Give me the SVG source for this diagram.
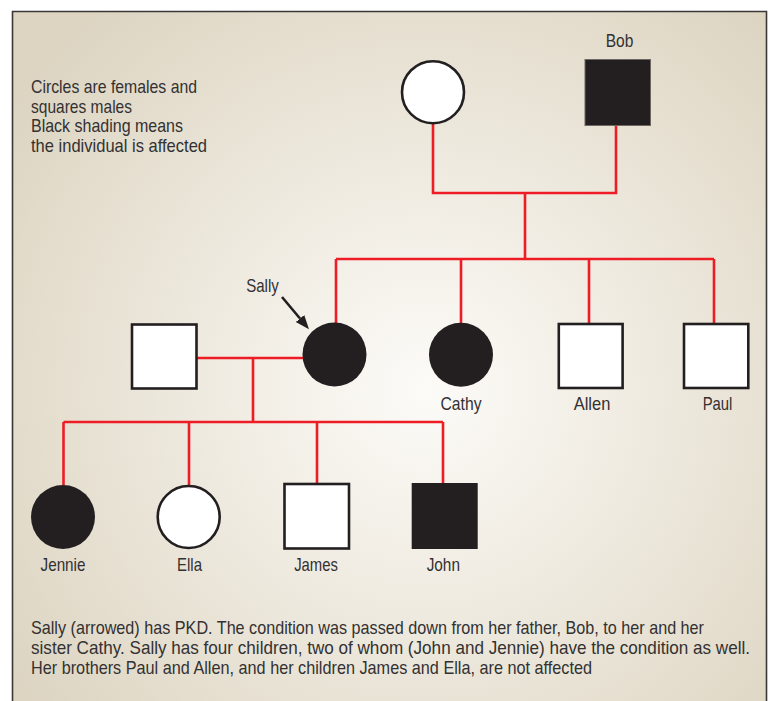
<svg xmlns="http://www.w3.org/2000/svg" width="774" height="701" viewBox="0 0 774 701">
  <defs>
    <radialGradient id="bg" gradientUnits="userSpaceOnUse" cx="425" cy="390" r="500">
      <stop offset="0" stop-color="#fcfbf8"/>
      <stop offset="0.35" stop-color="#f2eee5"/>
      <stop offset="1" stop-color="#ddd5c2"/>
    </radialGradient>
    <marker id="arrow" markerUnits="userSpaceOnUse" markerWidth="15" markerHeight="12" refX="0" refY="5.5" orient="auto" viewBox="0 0 15 12">
      <path d="M0,0 L14,5.5 L0,11 z" fill="#231f20"/>
    </marker>
    <style>
      .txt { font-family: "Liberation Sans", Arial, sans-serif; font-size: 19px; fill: #333132; }
      .lbl { text-anchor: middle; }
      .link { fill: none; stroke: #ee1c25; stroke-width: 2.6; }
      .open { fill: #ffffff; stroke: #231f20; stroke-width: 2.6; }
      .aff { fill: #231f20; }
      .affsq { fill: #231f20; stroke: #6d6661; stroke-width: 1; }
    </style>
  </defs>

  <rect x="0" y="0" width="774" height="701" fill="#ffffff"/>
  <rect x="12.5" y="11.5" width="754" height="690" fill="url(#bg)"/>
  <path d="M12.5,701 V11.5 H766.5 V701" fill="none" stroke="#3a3738" stroke-width="1.6"/>

  <g id="legend" class="txt">
    <text x="31" y="93" textLength="166" lengthAdjust="spacingAndGlyphs">Circles are females and</text>
    <text x="31" y="112.5" textLength="101" lengthAdjust="spacingAndGlyphs">squares males</text>
    <text x="31" y="132" textLength="152" lengthAdjust="spacingAndGlyphs">Black shading means</text>
    <text x="31" y="151.5" textLength="176" lengthAdjust="spacingAndGlyphs">the individual is affected</text>
  </g>

  <g id="connectors">
    <path class="link" d="M433,123 V193 H616 V125.5"/>
    <path class="link" d="M525,193 V259"/>
    <path class="link" d="M336,259 H714"/>
    <path class="link" d="M336,259 V323"/>
    <path class="link" d="M461,259 V323"/>
    <path class="link" d="M589,259 V323.5"/>
    <path class="link" d="M714,259 V323.5"/>
    <path class="link" d="M197,358 H303"/>
    <path class="link" d="M253,358 V422"/>
    <path class="link" d="M63.5,422 H443"/>
    <path class="link" d="M63.5,422 V485"/>
    <path class="link" d="M189,422 V486"/>
    <path class="link" d="M317,422 V483"/>
    <path class="link" d="M443,422 V483"/>
  </g>

  <g id="mother">
    <circle class="open" cx="433" cy="92.2" r="31"/>
  </g>

  <g id="bob">
    <rect class="affsq" x="585" y="59.5" width="65.5" height="66"/>
    <text class="txt lbl" x="619.5" y="46.7" textLength="27.7" lengthAdjust="spacingAndGlyphs">Bob</text>
  </g>

  <g id="sally">
    <circle class="aff" cx="334.5" cy="354.5" r="32"/>
    <text class="txt lbl" x="262.5" y="291.7" textLength="32.7" lengthAdjust="spacingAndGlyphs">Sally</text>
    <path d="M282,297 L300,318.5" fill="none" stroke="#231f20" stroke-width="2.6" marker-end="url(#arrow)"/>
  </g>

  <g id="sally-husband">
    <rect class="open" x="132" y="324.5" width="64.5" height="64"/>
  </g>

  <g id="cathy">
    <circle class="aff" cx="461" cy="354.8" r="32"/>
    <text class="txt lbl" x="461" y="410" textLength="41" lengthAdjust="spacingAndGlyphs">Cathy</text>
  </g>

  <g id="allen">
    <rect class="open" x="558.8" y="324" width="63.8" height="64"/>
    <text class="txt lbl" x="592" y="410" textLength="36.7" lengthAdjust="spacingAndGlyphs">Allen</text>
  </g>

  <g id="paul">
    <rect class="open" x="684" y="324" width="64.3" height="64"/>
    <text class="txt lbl" x="717.5" y="410" textLength="29.7" lengthAdjust="spacingAndGlyphs">Paul</text>
  </g>

  <g id="jennie">
    <circle class="aff" cx="63" cy="517" r="32"/>
    <text class="txt lbl" x="63" y="570.5" textLength="45" lengthAdjust="spacingAndGlyphs">Jennie</text>
  </g>

  <g id="ella">
    <circle class="open" cx="188.7" cy="517" r="31"/>
    <text class="txt lbl" x="189.5" y="570.5" textLength="25" lengthAdjust="spacingAndGlyphs">Ella</text>
  </g>

  <g id="james">
    <rect class="open" x="284.5" y="484" width="64.5" height="64.5"/>
    <text class="txt lbl" x="316" y="570.5" textLength="43.7" lengthAdjust="spacingAndGlyphs">James</text>
  </g>

  <g id="john">
    <rect class="aff" x="411.7" y="483" width="66" height="66"/>
    <text class="txt lbl" x="443.3" y="570.5" textLength="33.3" lengthAdjust="spacingAndGlyphs">John</text>
  </g>

  <g id="caption" class="txt" style="white-space: pre">
    <text x="31" y="634" textLength="673" lengthAdjust="spacingAndGlyphs">Sally (arrowed) has PKD. The condition was passed down from her father, Bob, to her and her</text>
    <text x="31" y="654" textLength="719" lengthAdjust="spacingAndGlyphs">sister Cathy. Sally has four children, two of whom (John and Jennie)  have the condition as well.</text>
    <text x="31" y="673.5" textLength="561" lengthAdjust="spacingAndGlyphs">Her brothers Paul and Allen, and her children James and Ella, are not affected</text>
  </g>
</svg>
